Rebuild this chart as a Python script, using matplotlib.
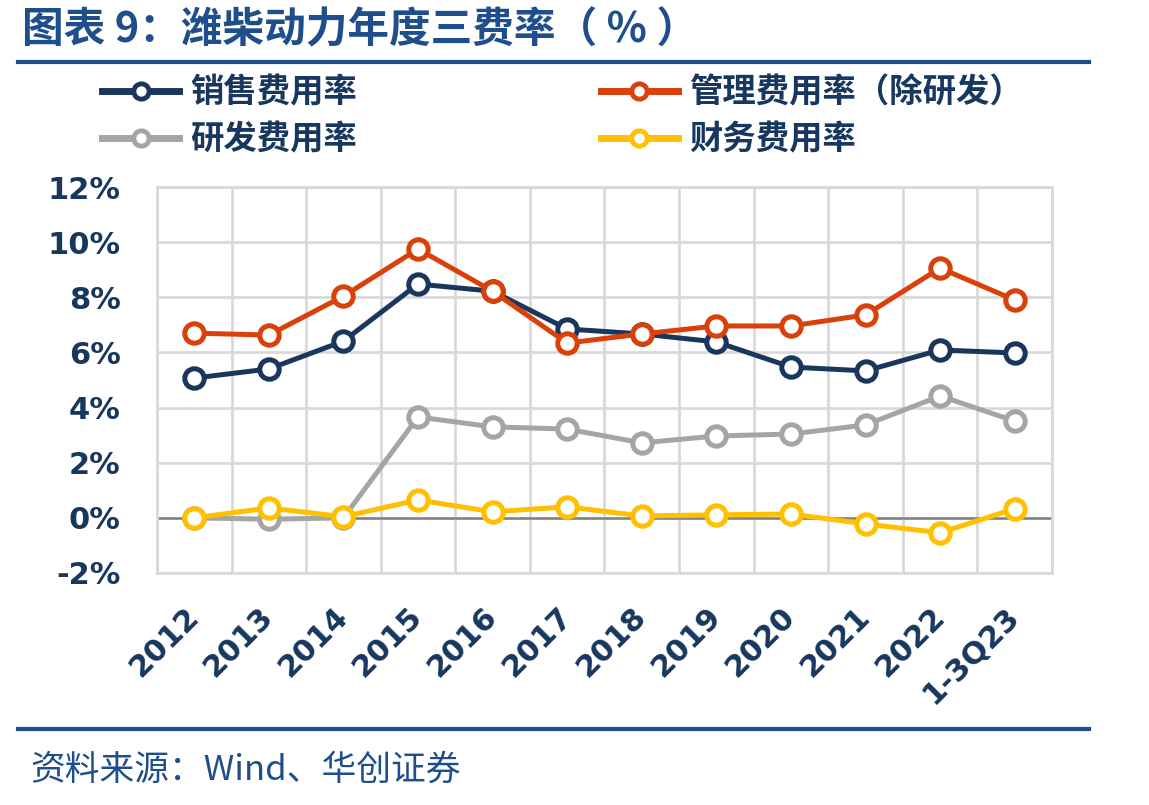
import matplotlib
matplotlib.use("Agg")
import matplotlib.pyplot as plt
from matplotlib.lines import Line2D
import numpy as np

plt.rcParams['font.family'] = ['Noto Sans CJK SC', 'DejaVu Sans']

# 数据（%）
categories = ['2012', '2013', '2014', '2015', '2016', '2017', '2018', '2019', '2020', '2021', '2022', '1-3Q23']
sales = [5.07, 5.40, 6.41, 8.48, 8.22, 6.85, 6.67, 6.38, 5.47, 5.33, 6.09, 5.98]
admin = [6.70, 6.63, 8.04, 9.75, 8.22, 6.34, 6.67, 6.96, 6.96, 7.36, 9.06, 7.90]
rnd = [0.00, -0.05, 0.00, 3.66, 3.30, 3.22, 2.72, 2.97, 3.04, 3.37, 4.42, 3.51]
finance = [0.00, 0.36, 0.04, 0.65, 0.22, 0.40, 0.07, 0.11, 0.14, -0.22, -0.54, 0.33]
yticks = [-2, 0, 2, 4, 6, 8, 10, 12]

navy = '#1B365D'
txt = '#17375E'
blue = '#1F4E8C'

fig = plt.figure(figsize=(11.49, 8.05), dpi=100)
ax = fig.add_axes([0.1366, 0.2882, 0.779, 0.4795])

x = np.arange(len(categories))
series = [
    (rnd, '#A5A5A5', '研发费用率'),
    (sales, navy, '销售费用率'),
    (admin, '#D9400A', '管理费用率（除研发）'),
    (finance, '#FFC000', '财务费用率'),
]
colors = {}
for vals, c, lab in series:
    ax.plot(x, vals, color=c, lw=3.6, marker='o', ms=14, mfc='white', mec=c, mew=3.6, zorder=3)
    colors[lab] = c

ax.axhline(0, color='#808080', lw=1.8, zorder=2)

ax.set_xlim(-0.5, len(categories) - 0.5)
ax.set_ylim(-2, 12)
ax.set_yticks(yticks)
ax.set_yticklabels([f'{v}%' for v in yticks], fontsize=22, fontweight='bold',
                   color=txt, family=['DejaVu Sans'])
ax.set_xticks(x)
ax.set_xticklabels(categories, rotation=45, ha='right', va='center', rotation_mode='anchor',
                   fontsize=22, fontweight='bold', color=txt, family=['DejaVu Sans'])
ax.set_xticks(np.arange(-0.5, len(categories)), minor=True)
ax.tick_params(which='both', length=0)
ax.tick_params(axis='y', pad=26)
ax.tick_params(axis='x', pad=28)

ax.grid(True, which='minor', axis='x', color='#D9D9D9', lw=2)
ax.grid(True, which='major', axis='y', color='#D9D9D9', lw=2)
for s in ax.spines.values():
    s.set_color('#D9D9D9')
    s.set_linewidth(2)

# 图例按列填充：左列 销售/研发，右列 管理/财务
order = ['销售费用率', '研发费用率', '管理费用率（除研发）', '财务费用率']
leg_handles = [Line2D([], [], color=colors[k], lw=5, marker='o', ms=11, mfc='white',
                      mec=colors[k], mew=3.5) for k in order]
leg = fig.legend(leg_handles, order, ncol=2, loc='upper left',
                 bbox_to_anchor=(0.063, 0.942), frameon=False, handlelength=2.3,
                 handletextpad=0.35, columnspacing=7.3, labelspacing=0.42,
                 prop={'size': 24, 'weight': 'bold'})
for t in leg.get_texts():
    t.set_color(txt)

# 标题与注释
fig.text(0.019, 0.962, '图表 9：潍柴动力年度三费率（ % ）', fontsize=30, fontweight='bold',
         color=blue, va='center')
fig.add_artist(Line2D([0.016, 0.948], [0.923, 0.923], color=blue, lw=3))
fig.add_artist(Line2D([0.016, 0.948], [0.094, 0.094], color=blue, lw=3))
fig.text(0.026, 0.043, '资料来源：Wind、华创证券', fontsize=25, style='italic',
         color=blue, va='center')

fig.savefig('out.png', dpi=100)
